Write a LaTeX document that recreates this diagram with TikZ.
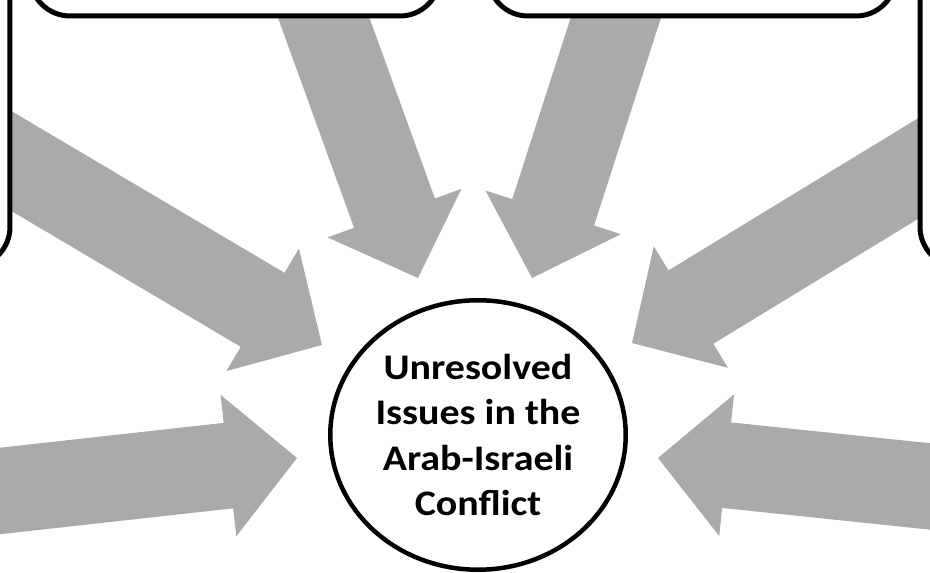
\documentclass[tikz,border=0pt]{standalone}
\usepackage{fontspec}
\usepackage{tikz}
\usetikzlibrary{arrows.meta}
\usetikzlibrary{shapes.geometric}
\newfontfamily\hubfont{Carlito}[FakeStretch=1.11]
\definecolor{arrowgray}{RGB}{170,170,170}
\tikzset{
  bigarrow/.style={draw=arrowgray, line width=1.72cm,
    -{Triangle[length=1.38cm, width=2.84cm, line width=1.2pt]}},
  issuebox/.style={rectangle, draw, fill=white, line width=0.1cm,
    rounded corners=0.8cm, inner sep=0pt},
  hub/.style={ellipse, draw, fill=white, line width=0.09cm, inner sep=0pt,
    minimum width=5.91cm, minimum height=5.39cm, align=center,
    font=\hubfont\bfseries\fontsize{20.5}{25.8}\selectfont}
}

\begin{document}
\begin{tikzpicture}[x=0.02cm, y=-0.02cm]
\useasboundingbox (0,0) rectangle (930,573);
\clip (0,0) rectangle (930,573);
% tails and tips of the big arrows
\coordinate (s1) at (-40,130.6);
\coordinate (e1) at (322,345);
\coordinate (s2) at (310,-20);
\coordinate (e2) at (418,278);
\coordinate (s3) at (628,-20);
\coordinate (e3) at (532,278);
\coordinate (s4) at (960,143);
\coordinate (e4) at (632,343);
\coordinate (s5) at (-30,494.3);
\coordinate (e5) at (297,458);
\coordinate (s6) at (960,489.6);
\coordinate (e6) at (658,458);
\foreach \i in {1,...,6}
  \draw[bigarrow] (s\i) -- (e\i);
% boxes, cut off by the page
\node[issuebox, minimum width=8.2cm, minimum height=3cm] (topleft) at (235,-59) {};
\node[issuebox, minimum width=8.16cm, minimum height=3cm] (topright) at (692,-59) {};
\node[issuebox, minimum width=6cm, minimum height=7.34cm] (leftbox) at (-140,83.5) {};
\node[issuebox, minimum width=6cm, minimum height=7.34cm] (rightbox) at (1070,83.5) {};
\node[hub] (hub) at (478,435) {Unresolved\\Issues in the\\Arab-Israeli\\Conflict};
\end{tikzpicture}
\end{document}
